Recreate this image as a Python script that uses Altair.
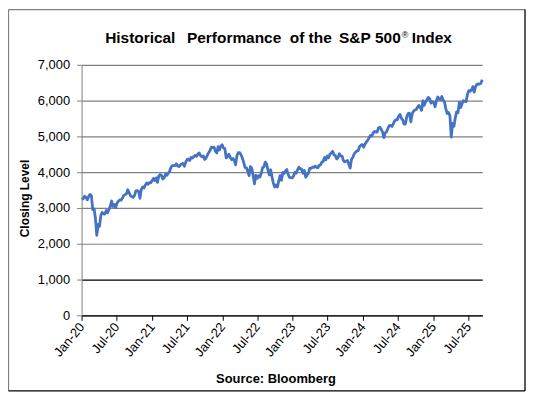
import altair as alt
import pandas as pd

# Approximate weekly closing levels (Fridays)
v2020 = [3235, 3265, 3330, 3295, 3226, 3328, 3380, 3338, 2954, 2972, 2711, 2237, 2541,
         2489, 2790, 2875, 2837, 2831, 2930, 2864, 2955, 3044, 3194, 3041, 3098, 3009,
         3130, 3185, 3225, 3216, 3271, 3351, 3373, 3397, 3508, 3427, 3341, 3319, 3298,
         3348, 3477, 3483, 3465, 3270, 3509, 3585, 3558, 3638, 3699, 3663, 3709, 3703]
v2021 = [3756, 3825, 3768, 3841, 3714, 3887, 3934, 3907, 3811, 3842, 3943, 3913, 3975,
         4020, 4129, 4185, 4180, 4181, 4233, 4174, 4156, 4204, 4230, 4247, 4166, 4281,
         4352, 4370, 4327, 4412, 4395, 4437, 4468, 4442, 4509, 4535, 4459, 4433, 4455,
         4357, 4391, 4471, 4545, 4605, 4697, 4683, 4698, 4595, 4538, 4712, 4620, 4726, 4766]
v2022 = [4677, 4663, 4398, 4432, 4500, 4419, 4349, 4385, 4329, 4204, 4463, 4543, 4546,
         4488, 4393, 4272, 4132, 4123, 4024, 3901, 4158, 4109, 3901, 3675, 3912, 3825,
         3899, 3863, 3962, 4130, 4145, 4280, 4228, 4058, 3924, 4067, 3873, 3693, 3586,
         3640, 3583, 3753, 3901, 3771, 3993, 3965, 4026, 4072, 3934, 3852, 3845, 3840]
v2023 = [3895, 3999, 3973, 4071, 4136, 4090, 4079, 3970, 4046, 3862, 3917, 3971, 4109,
         4105, 4138, 4133, 4169, 4136, 4124, 4192, 4205, 4282, 4299, 4410, 4348, 4450,
         4399, 4505, 4536, 4582, 4478, 4464, 4370, 4406, 4515, 4457, 4450, 4320, 4288,
         4308, 4327, 4224, 4117, 4358, 4415, 4514, 4559, 4595, 4604, 4719, 4755, 4770]
v2024 = [4697, 4784, 4840, 4891, 4959, 5027, 5006, 5089, 5137, 5124, 5117, 5234, 5254,
         5204, 5123, 4967, 5100, 5128, 5223, 5303, 5305, 5278, 5347, 5432, 5465, 5460,
         5567, 5615, 5505, 5459, 5346, 5344, 5554, 5635, 5648, 5408, 5626, 5703, 5738,
         5751, 5815, 5865, 5808, 5729, 5995, 5870, 5969, 6032, 6090, 6051, 5931, 5971]
v2025 = [5942, 5827, 5997, 6101, 6041, 6026, 6115, 6013, 5955, 5770, 5639, 5667, 5581,
         4982, 5363, 5283, 5525, 5686, 5660, 5958, 5803, 5912, 6000, 5977, 5968, 6173,
         6279, 6260, 6297, 6389, 6238, 6389, 6450, 6467, 6460, 6482, 6584]

closes = v2020 + v2021 + v2022 + v2023 + v2024 + v2025
dates = pd.date_range("2020-01-03", periods=len(closes), freq="W-FRI")
df = pd.DataFrame({"date": dates, "close": closes})

y_ticks = [0, 1000, 2000, 3000, 4000, 5000, 6000, 7000]
x_tick_months = [(2020, 1), (2020, 7), (2021, 1), (2021, 7), (2022, 1), (2022, 7),
                 (2023, 1), (2023, 7), (2024, 1), (2024, 7), (2025, 1), (2025, 7)]

NB = "\u00a0"
TH = "\u2009"
title_main = ("Historical" + NB + NB + TH + "Performance" + NB + NB + "of" + NB +
              "the" + NB + TH + "S&P" + NB + "500")
title_mark = "\u00ae"
title_end = "Index"
x_title = "Source: Bloomberg"
y_title = "Closing Level"

FONT = "Liberation Sans"
W, H = 403, 252

line = alt.Chart(df).mark_line(color="#4472C4", strokeWidth=2.8, strokeJoin="round").encode(
    x=alt.X("date:T",
            scale=alt.Scale(domain=[alt.DateTime(year=2020, month=1, date=1),
                                    alt.DateTime(year=2025, month=9, date=12)]),
            axis=alt.Axis(values=[alt.DateTime(year=y, month=m, date=1) for y, m in x_tick_months],
                          format="%b-%y", labelAngle=310, labelAlign="right",
                          labelBaseline="middle", labelFontSize=13, labelFont=FONT,
                          labelColor="black", labelPadding=4, tickSize=5,
                          tickColor="black", domainColor="black", domainWidth=1.2,
                          grid=False, title=x_title, titleFont=FONT, titleFontSize=13,
                          titleFontWeight="bold", titleColor="black",
                          titleX=195, titleY=68, titleAlign="center",
                          titleBaseline="alphabetic")),
    y=alt.Y("close:Q",
            scale=alt.Scale(domain=[0, 7000], nice=False, zero=True),
            axis=alt.Axis(values=y_ticks, format=",.0f", labelFontSize=13, labelFont=FONT,
                          labelColor="black", labelPadding=7, tickSize=5,
                          tickColor="#808080", domainColor="#808080",
                          gridColor={"condition": {"test": "datum.value === 1000", "value": "#000000"},
                                     "value": "#808080"},
                          gridWidth=1.2,
                          title=y_title, titleFont=FONT, titleFontSize=12,
                          titleFontWeight="bold", titleColor="black",
                          titleAngle=270, titleX=-57, titleY=134,
                          titleAlign="center", titleBaseline="middle")),
)

one = pd.DataFrame({"k": [0]})
t1 = alt.Chart(one).mark_text(text=title_main, align="right", baseline="alphabetic",
                              font=FONT, fontSize=15.5, fontWeight="bold", color="black").encode(
    x=alt.value(321), y=alt.value(-22))
t2 = alt.Chart(one).mark_text(text=title_mark, align="left", baseline="alphabetic",
                              font=FONT, fontSize=9, color="black").encode(
    x=alt.value(322), y=alt.value(-27))
t3 = alt.Chart(one).mark_text(text=title_end, align="left", baseline="alphabetic",
                              font=FONT, fontSize=15.5, fontWeight="bold", color="black").encode(
    x=alt.value(332), y=alt.value(-22))

b_top = alt.Chart(one).mark_rule(color="#808080", strokeWidth=1.3).encode(
    x=alt.value(-73.5), x2=alt.value(446), y=alt.value(-55.5))
b_left = alt.Chart(one).mark_rule(color="#808080", strokeWidth=1.3).encode(
    x=alt.value(-73.5), y=alt.value(-55.5), y2=alt.value(328))
b_right = alt.Chart(one).mark_rule(color="black", strokeWidth=1.3).encode(
    x=alt.value(446), y=alt.value(-55.5), y2=alt.value(328))
b_bottom = alt.Chart(one).mark_rule(color="black", strokeWidth=1.3).encode(
    x=alt.value(-73.5), x2=alt.value(446), y=alt.value(328))

chart = alt.layer(line, t1, t2, t3, b_top, b_left, b_right, b_bottom).properties(
    width=W, height=H,
    autosize=alt.AutoSizeParams(type="none"),
    padding={"left": 74, "top": 56, "right": 45, "bottom": 78},
    background="white",
).configure_view(stroke=None)

chart.save("out.html", embed_options={"renderer": "svg", "actions": False})
